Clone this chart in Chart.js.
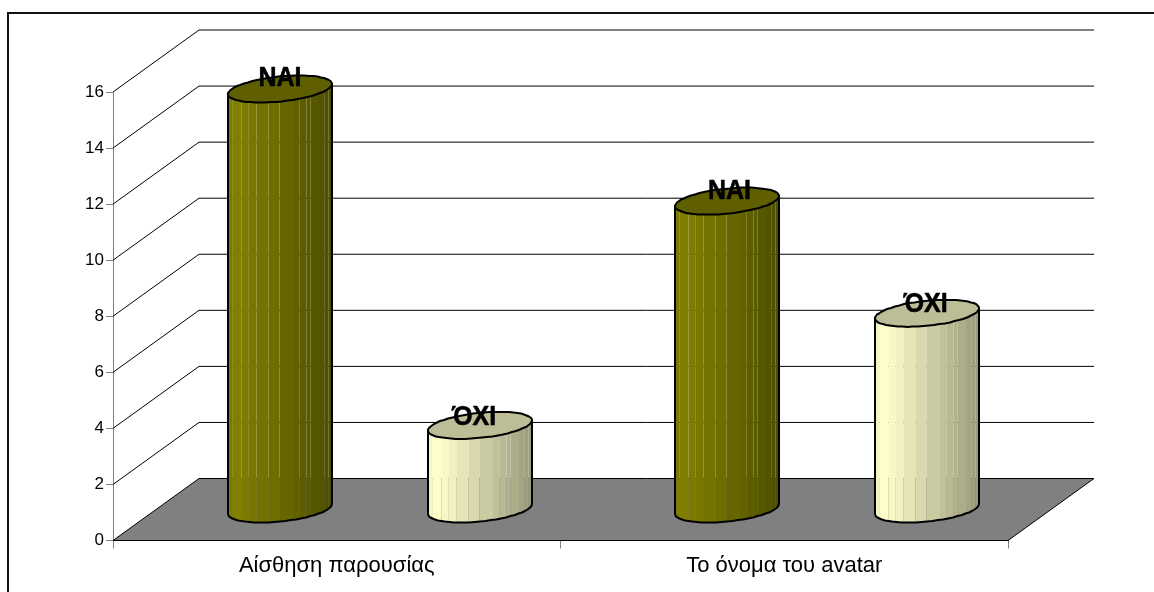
<!DOCTYPE html>
<html>
<head>
<meta charset="utf-8">
<title>Αίσθηση παρουσίας</title>
<script src="https://cdn.jsdelivr.net/npm/chart.js@4/dist/chart.umd.js"></script>
<style>
    html, body { margin: 0; padding: 0; background: #fff; }
    canvas { display: block; }
</style>
</head>
<body>
<canvas id="cylinderChart" width="1154" height="592"></canvas>
<script>
const categories = ["Αίσθηση παρουσίας", "Το όνομα του avatar"];
const yesValues = [15, 11];
const noValues = [3, 7];
const seriesNames = ["ΝΑΙ", "ΌΧΙ"];
const yTicks = [0, 2, 4, 6, 8, 10, 12, 14, 16];

// oblique depth of the floor, in pixels
const DEPTH_X = 86;
const DEPTH_Y = -62;

// where the side facets of a cylinder change shade, 0 = left edge, 1 = right edge
const FACET_STOPS = [0, .04, .13, .2, .275, .39, .495, .625, .69, .755, .795, .875, .925, .965, 1];

// hand placed label offsets from the cylinder top, [dx, dy] per series and category
const LABEL_SHIFT = [
    [[0, -3], [2.5, -2]],
    [[-6, -0.5], [-1.5, -1]]
];

function shade(rgb, factor) {
    return "rgb(" + rgb.map(c => Math.round(c * factor)).join(",") + ")";
}

function facetFactor(pos) {
    if (pos < .1) {
        return .95 + pos * .5;
    }
    return 1 - (pos - .1) * .44;
}

class CylinderController extends Chart.BarController {
    static id = "cylinderBar";
    static defaults = Chart.BarController.defaults;
    static overrides = Chart.BarController.overrides;

    /**
     * Point on the rim of a cylinder end, rounded a little so the outline keeps its facets
     */
    rimPoint(cx, cy, t) {
        const r = 48.2, a = 19.5, b = 13.5;
        const x = cx + r * Math.cos(t) + a * Math.sin(t);
        const y = cy - b * Math.sin(t);
        return [Math.round(x * 2) / 2, Math.round(y * 2) / 2];
    }

    drawCylinder(ctx, el, rgb, label, shift) {
        const cx = Math.round(el.x) + DEPTH_X / 2;
        const top = el.y + DEPTH_Y / 2;
        const bottom = el.base + DEPTH_Y / 2;
        const halfWidth = 52;
        const tilt = Math.atan2(19.5, 48.2);
        const steps = 30;

        const side = new Path2D();
        const leftTop = this.rimPoint(cx, top, Math.PI + tilt);
        side.moveTo(leftTop[0], leftTop[1]);
        for (let i = 0; i <= steps; i++) {
            const p = this.rimPoint(cx, bottom, Math.PI + tilt + Math.PI * i / steps);
            side.lineTo(p[0], p[1]);
        }
        const rightTop = this.rimPoint(cx, top, tilt);
        side.lineTo(rightTop[0], rightTop[1]);
        side.closePath();

        ctx.save();
        ctx.clip(side);
        const left = cx - halfWidth;
        for (let i = 0; i < FACET_STOPS.length - 1; i++) {
            const x0 = left + FACET_STOPS[i] * 104;
            const x1 = left + FACET_STOPS[i + 1] * 104;
            ctx.fillStyle = shade(rgb, facetFactor((FACET_STOPS[i] + FACET_STOPS[i + 1]) / 2));
            ctx.fillRect(x0, top - 30, x1 - x0, bottom - top + 60);
        }
        ctx.restore();

        ctx.lineWidth = 2;
        ctx.strokeStyle = "#000";
        ctx.lineJoin = "round";
        ctx.stroke(side);

        const cap = new Path2D();
        for (let i = 0; i < steps * 2; i++) {
            const p = this.rimPoint(cx, top, Math.PI * i / steps);
            if (i === 0) {
                cap.moveTo(p[0], p[1]);
            } else {
                cap.lineTo(p[0], p[1]);
            }
        }
        cap.closePath();
        ctx.fillStyle = shade(rgb, .74);
        ctx.fill(cap);
        ctx.stroke(cap);

        // the labels run a little taller and heavier than the plain bold face
        ctx.save();
        ctx.translate(cx + shift[0], top + shift[1]);
        ctx.scale(1, 1.1);
        ctx.fillStyle = "#000";
        ctx.strokeStyle = "#000";
        ctx.lineWidth = .5;
        ctx.font = "bold 25px 'Liberation Sans', Arial, sans-serif";
        ctx.textAlign = "center";
        ctx.textBaseline = "alphabetic";
        ctx.fillText(label, 0, 0);
        ctx.strokeText(label, 0, 0);
        ctx.restore();
    }

    draw() {
        const ctx = this.chart.ctx;
        const dataset = this.getDataset();
        this.getMeta().data.forEach((el, i) => {
            this.drawCylinder(ctx, el, dataset.faceRgb, dataset.label, LABEL_SHIFT[this.index][i]);
        });
    }
}

Chart.register(CylinderController);

// white chart frame, open towards the right and the bottom
const framePlugin = {
    id: "frame",
    beforeDraw(chart) {
        const ctx = chart.ctx;
        ctx.save();
        ctx.fillStyle = "#fff";
        ctx.fillRect(0, 0, chart.width, chart.height);
        ctx.fillStyle = "#111";
        ctx.fillRect(7, 12, 2, chart.height - 12);
        ctx.fillRect(7, 12, chart.width - 7, 2);
        ctx.restore();
    }
};

// back wall lines, side wall diagonals and the grey floor
const wallsPlugin = {
    id: "walls",
    beforeDatasetsDraw(chart) {
        const ctx = chart.ctx;
        const area = chart.chartArea;
        const yScale = chart.scales.y;
        const floorY = yScale.getPixelForValue(0);

        ctx.save();
        ctx.lineWidth = 1;
        ctx.strokeStyle = "#000";
        yTicks.forEach(tick => {
            if (tick === 0) {
                return;
            }
            const y = yScale.getPixelForValue(tick);
            ctx.beginPath();
            ctx.moveTo(area.left, y);
            ctx.lineTo(area.left + DEPTH_X, y + DEPTH_Y);
            ctx.lineTo(area.right + DEPTH_X, y + DEPTH_Y);
            ctx.stroke();
        });

        ctx.beginPath();
        ctx.moveTo(area.left, floorY);
        ctx.lineTo(area.right, floorY);
        ctx.lineTo(area.right + DEPTH_X, floorY + DEPTH_Y);
        ctx.lineTo(area.left + DEPTH_X, floorY + DEPTH_Y);
        ctx.closePath();
        ctx.fillStyle = "#808080";
        ctx.fill();
        ctx.stroke();
        ctx.restore();
    }
};

new Chart(document.getElementById("cylinderChart"), {
    type: "cylinderBar",
    data: {
        labels: categories,
        datasets: [
            {label: seriesNames[0], data: yesValues, faceRgb: [128, 128, 0], clip: false, categoryPercentage: .894, barPercentage: .52},
            {label: seriesNames[1], data: noValues, faceRgb: [255, 255, 204], clip: false, categoryPercentage: .894, barPercentage: .52}
        ]
    },
    options: {
        responsive: false,
        animation: false,
        layout: {padding: {top: 92, right: 146, left: 0, bottom: 0}},
        plugins: {legend: {display: false}, tooltip: {enabled: false}},
        scales: {
            x: {
                type: "category",
                afterFit: scale => { scale.height = 51.5; },
                border: {color: "#000"},
                grid: {offset: true, drawOnChartArea: false, drawTicks: true, tickLength: 8, color: "#808080"},
                ticks: {color: "#000", padding: 4, maxRotation: 0, font: {family: "'Liberation Sans', Arial, sans-serif", size: 22}}
            },
            y: {
                min: 0,
                max: 16,
                afterFit: scale => { scale.width = 113; },
                afterBuildTicks: scale => { scale.ticks = yTicks.map(value => ({value})); },
                border: {color: "#808080"},
                grid: {drawOnChartArea: false, drawTicks: true, tickLength: 7, color: "#808080"},
                ticks: {color: "#000", padding: 2, font: {family: "'Liberation Sans', Arial, sans-serif", size: 17}}
            }
        }
    },
    plugins: [framePlugin, wallsPlugin]
});
</script>
</body>
</html>
